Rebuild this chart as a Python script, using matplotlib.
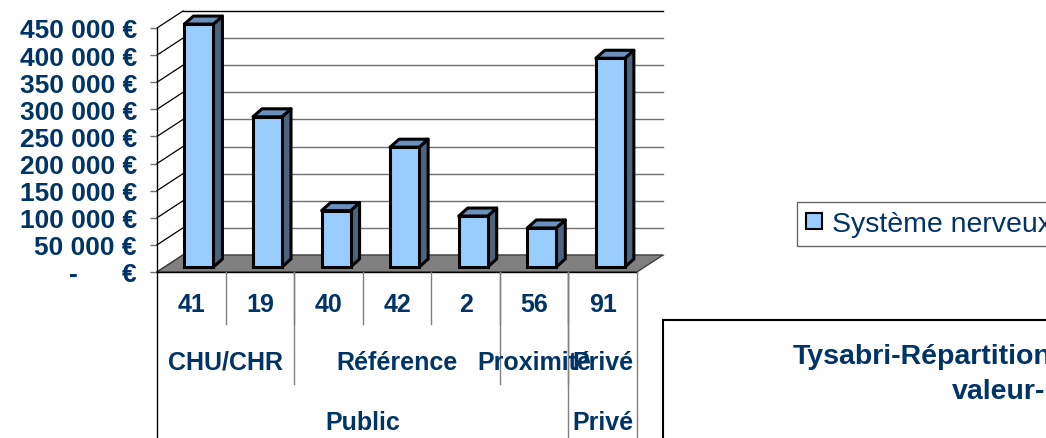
import matplotlib
matplotlib.use("Agg")
import matplotlib.pyplot as plt
from matplotlib.patches import Polygon, Rectangle, Patch
from matplotlib.ticker import FuncFormatter

# ---------------- data ----------------
codes = ["41", "19", "40", "42", "2", "56", "91"]
values = [448000, 277000, 104000, 221000, 94000, 72000, 385000]
level2_labels = ["CHU/CHR", "Référence", "Proximité", "Privé"]
level2_spans = [(0, 2), (2, 5), (5, 6), (6, 7)]
level3_labels = ["Public", "Privé"]
level3_spans = [(0, 6), (6, 7)]
series_name = "Système nerveux"
yticks = [0, 50000, 100000, 150000, 200000, 250000, 300000, 350000, 400000, 450000]
title_lines = ["Tysabri-Répartition", "valeur-"]

# ---------------- layout ----------------
W, H = 1046, 439
FRONT_L, FRONT_R, FRONT_B, FRONT_T = 157, 637, 273, 29
NCAT = len(codes)
PX_CAT = (FRONT_R - FRONT_L) / NCAT
YMAX = 450000
PX_VAL = (FRONT_B - FRONT_T) / YMAX


def X(px):
    return (px - FRONT_L) / PX_CAT


def Y(py):
    return (FRONT_B - py) / PX_VAL


TXT = "#003366"
plt.rcParams["font.family"] = ["Liberation Sans", "DejaVu Sans"]

fig = plt.figure(figsize=(W / 100, H / 100), dpi=100)
ax = fig.add_axes([0, 0, 1, 1])
ax.set_xlim(X(0), X(W))
ax.set_ylim(Y(H), Y(0))
ax.patch.set_alpha(0)

# depth of the floor / walls
DX = 26 / PX_CAT
DY = 17 / PX_VAL

# back wall grid lines and side-wall diagonals
for v in yticks:
    col = "black" if v == yticks[-1] else "#707070"
    ax.plot([DX, NCAT + DX], [v + DY, v + DY], color=col, lw=1, zorder=1)
    ax.plot([0, DX], [v, v + DY], color="black", lw=0.9, zorder=1)

# floor
floor = Polygon([(0, 0), (NCAT, 0), (NCAT + DX, DY), (DX, DY)], closed=True,
                facecolor="#808080", edgecolor="#404040", lw=1, zorder=2)
ax.add_patch(floor)

# bars with pseudo 3D
BW = 29 / PX_CAT
FRAC = 5 / 17
bx = DX * FRAC
by = DY * FRAC
ddx = 9 / PX_CAT
ddy = 8 / PX_VAL
xs = [i + 0.5 + bx for i in range(NCAT)]
bars = ax.bar(xs, values, width=BW, bottom=by, color="#99CCFF",
              edgecolor="black", linewidth=2.2, zorder=5)
for rect in bars:
    x0 = rect.get_x()
    x1 = x0 + rect.get_width()
    y0 = rect.get_y()
    y1 = y0 + rect.get_height()
    side = Polygon([(x1, y0), (x1 + ddx, y0 + ddy), (x1 + ddx, y1 + ddy), (x1, y1)],
                   closed=True, facecolor="#4D6480", edgecolor="black", lw=2.2,
                   joinstyle="round", zorder=4)
    top = Polygon([(x0, y1), (x1, y1), (x1 + ddx, y1 + ddy), (x0 + ddx, y1 + ddy)],
                  closed=True, facecolor="#6B90BC", edgecolor="black", lw=2.2,
                  joinstyle="round", zorder=4)
    ax.add_patch(side)
    ax.add_patch(top)

# value axis
for s in ["top", "right", "bottom"]:
    ax.spines[s].set_visible(False)
ax.spines["left"].set_position(("data", 0))
ax.spines["left"].set_bounds(0, YMAX)
ax.spines["left"].set_linewidth(1)
ax.set_xticks([])
ax.set_yticks(yticks)


def fmt(v, pos):
    if v == 0:
        return "-      €"
    return f"{int(v):,}".replace(",", " ") + " €"


ax.yaxis.set_major_formatter(FuncFormatter(fmt))
ax.tick_params(axis="y", direction="out", length=5, width=1, color="#707070",
               pad=9.5, labelsize=19, labelcolor=TXT)
for lab in ax.get_yticklabels():
    lab.set_fontweight("bold")

# category table
yb = Y(H + 5)
ax.plot([0, NCAT], [0, 0], color="black", lw=1, zorder=3)
ax.plot([0, 0], [0, yb], color="black", lw=1, zorder=3)
ax.plot([NCAT, NCAT], [0, yb], color="#808080", lw=1, zorder=3)
for i in range(1, NCAT):
    ax.plot([i, i], [0, Y(325)], color="#808080", lw=1, zorder=3)
for a, b in level2_spans[:-1]:
    ax.plot([b, b], [0, Y(385)], color="#808080", lw=1, zorder=3)
for a, b in level3_spans[:-1]:
    ax.plot([b, b], [0, yb], color="#808080", lw=1, zorder=3)

for i, c in enumerate(codes):
    ax.text(i + 0.5, Y(305), c, ha="center", va="center", fontsize=18,
            fontweight="bold", color=TXT)
for lab, (a, b) in zip(level2_labels, level2_spans):
    ax.text((a + b) / 2, Y(363), lab, ha="center", va="center", fontsize=18,
            fontweight="bold", color=TXT)
for lab, (a, b) in zip(level3_labels, level3_spans):
    ax.text((a + b) / 2, Y(423), lab, ha="center", va="center", fontsize=18,
            fontweight="bold", color=TXT)

# legend
leg = ax.legend(handles=[Patch(facecolor="#99CCFF", edgecolor="black", lw=1.5,
                               label=series_name)],
                loc="upper left", bbox_to_anchor=(797 / W, 1 - 203 / H),
                bbox_transform=fig.transFigure, frameon=True, fancybox=False,
                edgecolor="#404040", fontsize=20.5, borderpad=0.32,
                handlelength=0.55, handleheight=0.5, handletextpad=0.35,
                borderaxespad=0, labelcolor=TXT)
leg.get_frame().set_linewidth(1)

# title box (cut by the figure edge)
ax.add_patch(Rectangle((X(663), Y(H + 10)), X(W + 20) - X(663), Y(321) - Y(H + 10),
                       facecolor="none", edgecolor="black", lw=1.5, zorder=3))
ax.text(X(793), Y(357), title_lines[0], ha="left", va="center", fontsize=20.5,
        fontweight="bold", color=TXT)
ax.text(X(952), Y(392), title_lines[1], ha="left", va="center", fontsize=20.5,
        fontweight="bold", color=TXT)

fig.savefig("out.png", dpi=100)
